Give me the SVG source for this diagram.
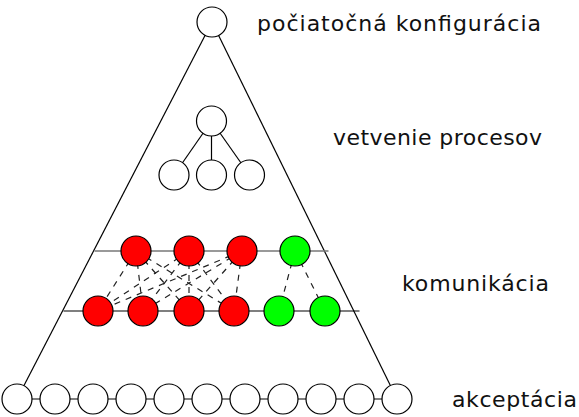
<svg xmlns="http://www.w3.org/2000/svg" width="579" height="417" viewBox="0 0 579 417">
<style>
.n{fill:#fff;stroke:#000;stroke-width:1.2}
.r{fill:#ff0000;stroke:#000;stroke-width:1.2}
.g{fill:#00ff00;stroke:#000;stroke-width:1.2}
.e{stroke:#000;stroke-width:1.2;fill:none}
.gl{stroke:#777;stroke-width:1.4;fill:none}
.d{stroke:#222;stroke-width:1.2;stroke-dasharray:6,6;fill:none}
text{font-family:"DejaVu Sans","Liberation Sans",sans-serif;font-size:22px;fill:#111}
</style>
<g id="connectors">
<line class="e" x1="212" y1="22" x2="17" y2="399"/>
<line class="e" x1="212" y1="22" x2="397" y2="399"/>
<line class="e" x1="211.5" y1="121" x2="174" y2="175"/>
<line class="e" x1="211.5" y1="121" x2="211.5" y2="175"/>
<line class="e" x1="211.5" y1="121" x2="249.5" y2="175"/>
<line class="gl" x1="94.5" y1="251" x2="328.5" y2="251"/>
<line class="e" x1="63.5" y1="311" x2="359.5" y2="311"/>
<line class="e" x1="17" y1="399" x2="397" y2="399"/>
<line class="d" x1="136" y1="251" x2="98" y2="311"/>
<line class="d" x1="136" y1="251" x2="143" y2="311"/>
<line class="d" x1="136" y1="251" x2="189" y2="311"/>
<line class="d" x1="136" y1="251" x2="234" y2="311"/>
<line class="d" x1="189" y1="251" x2="98" y2="311"/>
<line class="d" x1="189" y1="251" x2="143" y2="311"/>
<line class="d" x1="189" y1="251" x2="189" y2="311"/>
<line class="d" x1="189" y1="251" x2="234" y2="311"/>
<line class="d" x1="242" y1="251" x2="98" y2="311"/>
<line class="d" x1="242" y1="251" x2="143" y2="311"/>
<line class="d" x1="242" y1="251" x2="189" y2="311"/>
<line class="d" x1="242" y1="251" x2="234" y2="311"/>
<line class="d" x1="295" y1="251" x2="279" y2="311"/>
<line class="d" x1="295" y1="251" x2="325" y2="311"/>
</g>
<g id="start"><circle class="n" cx="212" cy="22" r="15"/></g>
<g id="fork-root"><circle class="n" cx="211.5" cy="121" r="15"/></g>
<g id="fork-1"><circle class="n" cx="174" cy="175" r="15"/></g>
<g id="fork-2"><circle class="n" cx="211.5" cy="175" r="15"/></g>
<g id="fork-3"><circle class="n" cx="249.5" cy="175" r="15"/></g>
<g id="top-r1"><circle class="r" cx="136" cy="251" r="15"/></g>
<g id="top-r2"><circle class="r" cx="189" cy="251" r="15"/></g>
<g id="top-r3"><circle class="r" cx="242" cy="251" r="15"/></g>
<g id="top-g1"><circle class="g" cx="295" cy="251" r="15"/></g>
<g id="bot-r1"><circle class="r" cx="98" cy="311" r="15"/></g>
<g id="bot-r2"><circle class="r" cx="143" cy="311" r="15"/></g>
<g id="bot-r3"><circle class="r" cx="189" cy="311" r="15"/></g>
<g id="bot-r4"><circle class="r" cx="234" cy="311" r="15"/></g>
<g id="bot-g1"><circle class="g" cx="279" cy="311" r="15"/></g>
<g id="bot-g2"><circle class="g" cx="325" cy="311" r="15"/></g>
<g id="accept">
<circle class="n" cx="17" cy="399" r="15"/>
<circle class="n" cx="55" cy="399" r="15"/>
<circle class="n" cx="93" cy="399" r="15"/>
<circle class="n" cx="131" cy="399" r="15"/>
<circle class="n" cx="169" cy="399" r="15"/>
<circle class="n" cx="207" cy="399" r="15"/>
<circle class="n" cx="245" cy="399" r="15"/>
<circle class="n" cx="283" cy="399" r="15"/>
<circle class="n" cx="321" cy="399" r="15"/>
<circle class="n" cx="359" cy="399" r="15"/>
<circle class="n" cx="397" cy="399" r="15"/>
</g>
<g id="labels">
<text x="257" y="31" textLength="284" lengthAdjust="spacing">počiatočná konfigurácia</text>
<text x="333" y="145" textLength="209" lengthAdjust="spacing">vetvenie procesov</text>
<text x="402" y="291" textLength="147" lengthAdjust="spacing">komunikácia</text>
<text x="452" y="407" textLength="125" lengthAdjust="spacing">akceptácia</text>
</g>
</svg>
